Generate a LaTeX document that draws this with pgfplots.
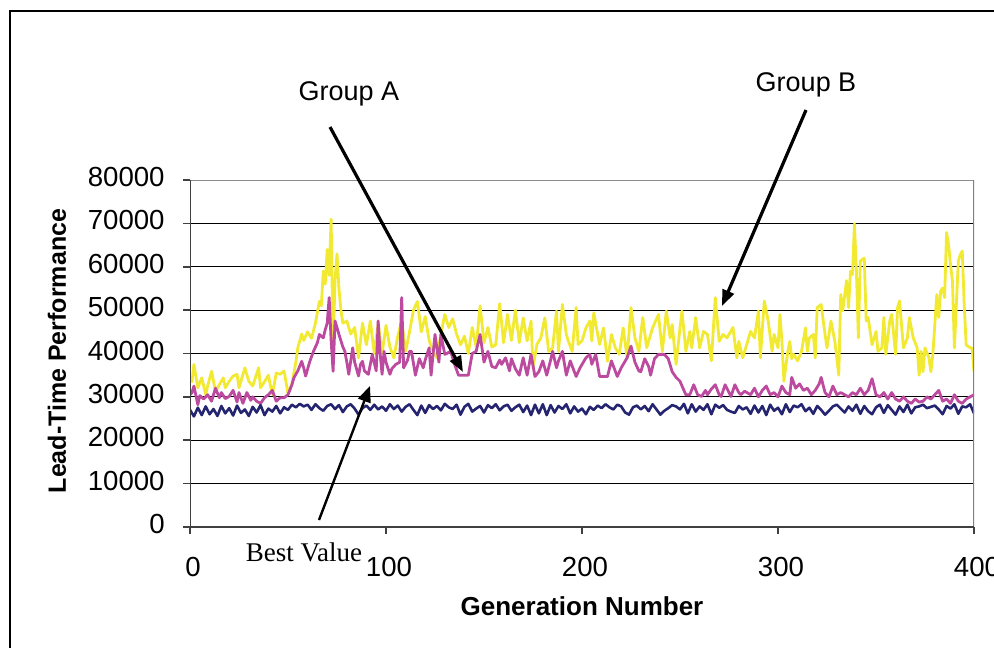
\documentclass[border=0pt]{standalone}
\usepackage{pgfplots}
\pgfplotsset{compat=1.18}
\usepackage{fontspec}
\setmainfont{Liberation Sans}
\newfontfamily\seriffont{Liberation Serif}
\usetikzlibrary{arrows.meta}
\definecolor{cyel}{RGB}{242,234,50}
\definecolor{cmag}{RGB}{188,75,160}
\definecolor{cnav}{RGB}{36,36,112}
\tikzset{px/.style={x=0.5pt,y=-0.5pt,shift={(-95pt,263.5pt)}}}
\begin{document}
\begin{tikzpicture}[trim left=-95pt, trim right=402pt]
\begin{scope}[px]
\path[use as bounding box] (0,0) rectangle (994,648);
\end{scope}
\begin{axis}[
  width=392pt, height=173.5pt, scale only axis,
  xmin=0, xmax=400, ymin=0, ymax=80000,
  xtick={0,100,200,300,400}, ytick={0,10000,...,80000},
  scaled y ticks=false, scaled x ticks=false,
  /pgf/number format/assume math mode=true,
  /pgf/number format/1000 sep={},
  tick label style={font=\fontsize{13.8}{13.8}\selectfont},
  yticklabel style={anchor=east, inner sep=0pt, xshift=-9pt, yshift=1.5pt},
  xticklabel style={anchor=base, inner sep=0pt, yshift=-21pt, xshift=1.5pt, overlay},
  tick align=outside, major tick length=3.5pt,
  tick style={color=black!75, line width=0.8pt},
  xtick pos=bottom, ytick pos=left,
  ymajorgrids, grid style={black, line width=0.5pt},
  axis line style={draw=none},
]
\addplot[cyel, line width=1.4pt, line join=round] coordinates {
(0,34400)(1,33500)(2,37500)(4,32100)(6,34400)(8,30500)(9,32500)(11,35900)(13,31300)(15,32800)(17,34400)(18,32100)(20,33600)(22,34800)(24,35200)(25,32100)(28,36700)(30,33600)(32,32500)(35,36700)(36,32100)(38,33500)(40,35000)(42,30500)(44,35500)(46,35200)(48,36000)(50,30800)(52,33000)(54,38000)(55,41300)(57,44500)(58,43000)(60,45000)(62,43500)(64,47000)(66,52000)(67,51000)(68,59000)(69,56000)(70,64000)(71,58000)(72,71000)(73,41000)(74,57000)(75,63000)(76,55000)(77,50000)(78,47000)(80,47500)(82,44500)(84,46000)(86,39000)(88,47000)(90,42000)(92,47500)(94,40000)(96,47000)(98,40000)(100,46500)(102,41500)(104,39000)(106,44000)(108,47500)(110,40500)(112,45000)(114,50000)(116,52000)(118,45000)(120,48500)(122,43000)(124,40500)(126,39000)(128,44500)(130,49000)(132,46000)(134,48000)(136,44500)(138,42000)(140,44000)(142,40000)(144,46000)(146,41500)(148,51000)(150,42500)(152,46000)(154,41500)(156,42000)(158,51500)(160,42500)(162,49000)(164,43000)(166,50000)(168,42500)(170,48200)(172,42900)(174,47500)(175,36700)(177,42100)(179,43600)(181,48200)(183,40500)(185,41300)(187,49800)(188,40500)(190,51300)(192,44400)(193,42900)(195,40500)(197,50600)(198,42100)(200,42900)(202,45900)(204,47500)(205,42900)(206,49400)(208,44400)(209,42100)(211,45900)(213,38200)(215,44400)(217,41300)(219,39800)(221,45900)(223,39000)(225,50600)(227,43600)(229,40500)(231,48300)(233,41300)(236,45900)(239,49000)(241,40500)(243,49800)(245,43600)(246,46700)(248,37500)(250,45900)(251,49800)(253,40500)(255,45100)(256,41300)(258,48300)(260,41300)(262,45100)(264,44400)(266,38300)(268,52900)(270,42800)(272,44400)(274,43600)(277,46000)(279,39000)(280,42800)(282,39000)(284,42000)(286,45100)(288,43600)(290,49800)(291,39000)(293,52100)(295,47500)(297,40500)(298,44400)(300,41300)(301,49000)(302,42800)(303,33600)(305,40500)(306,42800)(307,38800)(308,39800)(310,38300)(312,40500)(314,45900)(315,40500)(316,43600)(318,44400)(319,39000)(320,50600)(322,51300)(324,44400)(325,41300)(327,47500)(329,42800)(331,35000)(332,53600)(333,49800)(335,56800)(336,50600)(337,59000)(338,58200)(339,69900)(340,59000)(341,43600)(342,61300)(344,62000)(345,47500)(346,48300)(348,42000)(350,45100)(351,40500)(353,41300)(354,48300)(355,39800)(357,47500)(358,49000)(360,39800)(361,50600)(362,52100)(364,41300)(366,43600)(367,48300)(369,43600)(371,41300)(372,35000)(373,40500)(374,35800)(375,41300)(377,39000)(378,35800)(379,39800)(381,53600)(382,48300)(383,54400)(384,55100)(385,52900)(386,67900)(387,65200)(388,60500)(389,56700)(390,41300)(392,61300)(393,62800)(394,63600)(395,51300)(396,42000)(398,41300)(399,41300)(400,35800)
};
\addplot[cmag, line width=1.4pt, line join=round] coordinates {
(0,30500)(1,31000)(2,32500)(4,28200)(5,30300)(7,29500)(9,30500)(11,29000)(13,32000)(15,29800)(16,31000)(18,29600)(20,30100)(22,31500)(24,28800)(25,31000)(27,28500)(29,31000)(31,29200)(32,30000)(34,29000)(36,28500)(38,29800)(40,30500)(42,31500)(44,29000)(46,29800)(48,29800)(50,30500)(52,32800)(53,34400)(55,36000)(57,38200)(58,36700)(59,34800)(61,38000)(63,40500)(65,42500)(66,44400)(68,43600)(69,45500)(70,47000)(71,52900)(72,43000)(73,35900)(74,47500)(75,46000)(76,44400)(78,41500)(79,40500)(80,38000)(81,35200)(83,41300)(84,38000)(86,34800)(87,37500)(88,38200)(89,36000)(91,35200)(92,37500)(93,39800)(95,36000)(96,47500)(97,40000)(98,35200)(99,40500)(100,38000)(102,35200)(103,36500)(105,37500)(107,38000)(108,52900)(109,36700)(111,38500)(112,40500)(113,40500)(115,35000)(117,38800)(119,36700)(120,38500)(122,41300)(123,35000)(125,44400)(127,38000)(128,44400)(130,39800)(131,40000)(133,40500)(135,37500)(137,35000)(142,35000)(144,40000)(146,40500)(148,44400)(150,38000)(152,40500)(154,37000)(156,36700)(158,38500)(159,37500)(161,39000)(163,36000)(164,38800)(166,36500)(168,35000)(170,39000)(172,35000)(174,39800)(176,34700)(178,35800)(180,38300)(182,35000)(184,38500)(185,40500)(187,36700)(188,38300)(190,40500)(192,35000)(194,38300)(197,34700)(199,36700)(202,39000)(204,39800)(205,37500)(207,39800)(209,34700)(213,34700)(215,38300)(218,34700)(220,36700)(223,39000)(225,41700)(227,38000)(229,36000)(230,35800)(232,38800)(234,37000)(235,35000)(237,38800)(239,39800)(242,39800)(244,38800)(246,35800)(248,34500)(250,33600)(252,31500)(253,30500)(255,30500)(257,32800)(259,30500)(261,30100)(263,31500)(264,30500)(266,31800)(268,32800)(270,30500)(271,30100)(273,32800)(275,31000)(276,30100)(278,32800)(280,31000)(281,30500)(283,31300)(286,30500)(288,32000)(290,30000)(292,31500)(294,32500)(296,30500)(298,31000)(300,30000)(302,32500)(304,31000)(306,30500)(307,34500)(309,32000)(311,33000)(313,31500)(315,32000)(317,30500)(319,31500)(321,33000)(322,34500)(324,31000)(326,30000)(328,32500)(330,30500)(332,31000)(334,30500)(336,30000)(338,31000)(340,30500)(342,32000)(344,30500)(346,31500)(348,34200)(350,30500)(352,30000)(354,31000)(356,29500)(358,31000)(360,29500)(362,29000)(364,30000)(366,29000)(368,28500)(370,29500)(372,28800)(374,29000)(376,30000)(378,29500)(380,30500)(382,31500)(384,29000)(386,29500)(388,28500)(390,30500)(392,29000)(394,28500)(396,29500)(398,30000)(400,30500)
};
\addplot[cnav, line width=1.3pt, line join=round] coordinates {
(0,27000)(2,25500)(4,27500)(6,25800)(8,27800)(10,26000)(12,27200)(14,25600)(16,27900)(18,26200)(20,27400)(22,25700)(24,28000)(26,26300)(28,27100)(30,25600)(32,27700)(34,26400)(36,28100)(38,25800)(40,27300)(42,26600)(44,27900)(46,26200)(48,27600)(50,27000)(52,28200)(54,27600)(56,28400)(58,27800)(60,28200)(62,27000)(64,28300)(66,27400)(68,26800)(70,27900)(72,28300)(74,27200)(76,28100)(78,26500)(80,27800)(82,28300)(84,27300)(86,25900)(88,27400)(90,28000)(92,27000)(94,28200)(96,27100)(98,27800)(100,26800)(102,28300)(104,27200)(106,28000)(108,26600)(110,27700)(112,28300)(114,27000)(116,25800)(118,28000)(120,26300)(122,28100)(124,27200)(126,27900)(128,26900)(130,28400)(132,27600)(134,27200)(136,28200)(138,25900)(140,27700)(142,28400)(144,26600)(146,27300)(148,27900)(150,26400)(152,28100)(154,27400)(156,28300)(158,26900)(160,27800)(162,28200)(164,26800)(166,27600)(168,28200)(170,26500)(172,28000)(174,25800)(176,28200)(178,26200)(180,28300)(182,25800)(184,28100)(186,26400)(188,27900)(190,27200)(192,28300)(194,26200)(196,27800)(198,26600)(200,27300)(202,26000)(204,27700)(206,27000)(208,28000)(210,27400)(212,28300)(214,27600)(216,27100)(218,28200)(220,27800)(222,26400)(224,25900)(226,27600)(228,28000)(230,27100)(232,27900)(234,26700)(236,28300)(238,27100)(240,25900)(242,26800)(244,27400)(246,28100)(248,27800)(250,27100)(252,28400)(254,26200)(256,28300)(258,26600)(260,27800)(262,27000)(264,28300)(266,26000)(268,28200)(270,27500)(272,28100)(274,27000)(276,26600)(278,26300)(280,27900)(282,27100)(284,27600)(286,26100)(288,28000)(290,26400)(292,27900)(294,25800)(296,28200)(298,26800)(300,27500)(302,26000)(304,28300)(306,26500)(308,28000)(310,27600)(312,28300)(314,26700)(316,27500)(318,26100)(320,27900)(322,27000)(324,25900)(326,26800)(328,27800)(330,28200)(332,27300)(334,26400)(336,27800)(338,26800)(340,28200)(342,26100)(344,27900)(346,26700)(348,26000)(350,27600)(352,28200)(354,26300)(356,28100)(358,27000)(360,25900)(362,27800)(364,26500)(366,28200)(368,26200)(370,27600)(372,27800)(374,28200)(376,27400)(378,27700)(380,28000)(382,27100)(384,26000)(386,27900)(388,27300)(390,28300)(392,26100)(394,27800)(396,27600)(398,28300)(400,26200)
};
\draw[black!45, line width=0.8pt] (rel axis cs:0,1) -- (rel axis cs:1,1);
\draw[black!50, line width=1.5pt] (rel axis cs:1,0) -- (rel axis cs:1,1);
\draw[black!75, line width=1pt] (rel axis cs:0,1) -- (rel axis cs:0,0) -- (rel axis cs:1,0);
\end{axis}
\begin{scope}[px]
\draw[black, line width=1pt] (10,648) -- (10,11) -- (994,11);
\draw[black, line width=1.6pt, -{Triangle[length=8pt,width=6pt]}] (330,127) -- (463,372);
\draw[black, line width=1.6pt, -{Triangle[length=8pt,width=6pt]}] (806,110) -- (722,306);
\draw[black, line width=1.2pt, -{Triangle[length=8pt,width=6.5pt]}] (319,520) -- (370,386);
\node[anchor=base, inner sep=0pt, font=\fontsize{13.5}{13.5}\selectfont] at (349,101) {Group A};
\node[anchor=base, inner sep=0pt, font=\fontsize{13.5}{13.5}\selectfont] at (806,91) {Group B};
\node[anchor=base, inner sep=0pt, font=\seriffont\fontsize{13.5}{13.5}\selectfont] at (304,561) {Best Value};
\node[anchor=base, inner sep=0pt, font=\bfseries\fontsize{13}{13}\selectfont] at (582,615) {Generation Number};
\node[anchor=base, rotate=90, inner sep=0pt, font=\bfseries\fontsize{12.5}{12.5}\selectfont] at (66,351) {Lead-Time Performance};
\end{scope}
\end{tikzpicture}
\end{document}
